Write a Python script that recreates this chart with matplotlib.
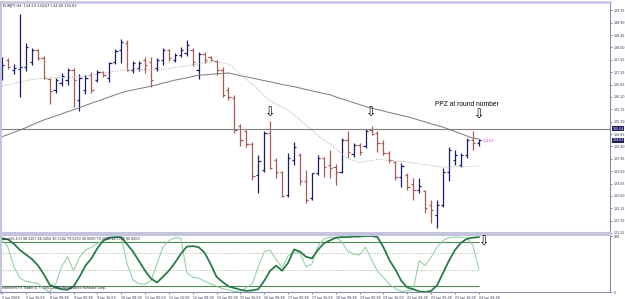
import matplotlib
matplotlib.use("Agg")
import matplotlib.pyplot as plt
import numpy as np

# EURJPY H4, 5 Jun 2009 00:00 .. 24 Jun 2009 08:00 (81 bars)
opens = [137.10, 137.54, 137.18, 137.20, 137.28, 137.47, 137.90, 137.61, 136.85, 136.45,
         136.70, 136.81, 137.18, 136.08, 136.45, 137.00, 136.81, 137.10, 136.88, 137.47,
         137.90, 138.16, 137.18, 137.25, 137.54, 137.47, 137.25, 137.54, 137.90, 137.54,
         137.72, 137.79, 137.90, 137.18, 137.76, 137.65, 137.50, 137.18, 136.45, 136.16,
         135.14, 134.96, 134.48, 133.36, 133.54, 134.88, 133.90, 133.47, 132.63, 133.90,
         134.08, 133.14, 132.52, 133.43, 133.98, 133.72, 133.65, 133.47, 134.63, 134.12,
         134.45, 134.41, 135.00, 134.88, 134.52, 134.16, 133.83, 133.28, 133.36, 133.03,
         132.81, 132.78, 132.27, 131.90, 132.27, 133.47, 133.90, 133.72, 134.08, 134.63,
         134.53]
highs = [137.65, 137.61, 137.39, 139.21, 138.16, 137.97, 137.94, 137.68, 136.88, 136.88,
         137.07, 137.25, 137.25, 137.03, 137.00, 137.10, 137.18, 137.14, 137.47, 137.94,
         138.30, 138.27, 137.50, 137.50, 137.65, 137.65, 137.61, 137.97, 137.94, 137.79,
         138.01, 138.27, 137.97, 137.83, 137.83, 137.68, 137.54, 137.28, 136.56, 136.27,
         135.21, 135.00, 134.56, 134.08, 134.96, 135.32, 133.98, 133.50, 134.16, 134.56,
         134.16, 133.54, 133.43, 134.08, 134.01, 134.27, 133.76, 134.70, 134.96, 134.52,
         134.52, 135.03, 135.14, 134.96, 134.63, 134.23, 133.87, 133.79, 133.43, 133.25,
         133.25, 132.81, 132.45, 132.45, 133.61, 134.37, 134.27, 134.16, 134.70, 134.96,
         134.67]
lows = [136.81, 137.21, 137.03, 136.19, 137.14, 137.36, 137.54, 136.85, 135.94, 136.34,
        136.59, 136.63, 135.83, 135.68, 136.30, 136.34, 136.74, 136.92, 136.74, 137.39,
        137.43, 137.14, 137.07, 137.14, 137.07, 136.56, 137.14, 137.36, 137.50, 137.47,
        137.65, 137.68, 137.32, 136.85, 137.43, 137.50, 137.00, 136.19, 136.09, 134.88,
        134.41, 134.37, 133.18, 132.70, 133.47, 133.57, 133.25, 132.56, 132.56, 133.72,
        132.99, 132.34, 132.45, 133.36, 133.28, 133.25, 132.99, 133.43, 133.99, 134.01,
        134.08, 134.34, 134.81, 134.19, 134.08, 133.79, 133.18, 132.92, 132.81, 132.45,
        132.70, 131.98, 131.61, 131.43, 132.19, 133.14, 133.72, 133.65, 133.98, 134.27,
        134.40]
closes = [137.36, 137.29, 137.25, 137.30, 138.01, 137.90, 137.61, 136.88, 136.41, 136.81,
          136.96, 137.18, 136.81, 136.88, 136.88, 136.45, 137.10, 137.00, 137.43, 137.87,
          138.19, 137.18, 137.43, 137.43, 137.36, 136.81, 137.54, 137.90, 137.61, 137.72,
          137.90, 138.08, 137.47, 137.76, 137.54, 137.54, 137.18, 136.27, 136.19, 135.00,
          134.63, 134.48, 133.32, 133.87, 134.88, 133.61, 133.47, 132.59, 133.98, 134.37,
          133.14, 132.45, 133.43, 133.98, 133.65, 133.61, 133.47, 134.63, 134.19, 134.45,
          134.19, 134.96, 134.85, 134.52, 134.16, 133.90, 133.28, 133.68, 132.92, 132.81,
          132.96, 132.16, 132.09, 132.27, 133.47, 134.27, 134.08, 134.08, 134.63, 134.52,
          134.63]

# moving averages
ma_slow = [134.75, 134.83, 134.91, 134.99, 135.08, 135.18, 135.27, 135.36, 135.43, 135.51,
           135.58, 135.66, 135.73, 135.81, 135.89, 135.97, 136.04, 136.12, 136.20, 136.27,
           136.35, 136.41, 136.45, 136.50, 136.54, 136.59, 136.64, 136.70, 136.75, 136.81,
           136.85, 136.89, 136.94, 136.99, 137.00, 137.02, 137.04, 137.05, 137.07, 137.02,
           136.97, 136.93, 136.88, 136.84, 136.79, 136.75, 136.70, 136.65, 136.61, 136.57,
           136.52, 136.47, 136.42, 136.37, 136.32, 136.28, 136.20, 136.13, 136.06, 135.99,
           135.92, 135.85, 135.79, 135.74, 135.69, 135.63, 135.58, 135.53, 135.48, 135.42,
           135.35, 135.29, 135.22, 135.16, 135.10, 135.02, 134.94, 134.86, 134.78, 134.70,
           134.67]
ma_fast = [136.60, 136.64, 136.69, 136.74, 136.78, 136.83, 136.86, 136.88, 136.89, 136.90,
           136.90, 136.91, 136.92, 136.92, 136.96, 136.99, 137.03, 137.06, 137.10, 137.13,
           137.16, 137.19, 137.21, 137.20, 137.19, 137.18, 137.17, 137.20, 137.23, 137.27,
           137.30, 137.33, 137.37, 137.40, 137.44, 137.47, 137.47, 137.44, 137.39, 137.23,
           137.03, 136.84, 136.66, 136.45, 136.25, 136.05, 135.94, 135.83, 135.72, 135.55,
           135.36, 135.17, 134.99, 134.82, 134.64, 134.50, 134.32, 134.12, 133.95, 133.88,
           133.82, 133.85, 133.88, 133.93, 133.91, 133.89, 133.87, 133.85, 133.83, 133.80,
           133.77, 133.73, 133.70, 133.67, 133.65, 133.65, 133.66, 133.66, 133.67, 133.68,
           133.68]

# stochastic
stoch_main = [95, 94, 86, 75, 67, 59, 48, 32, 13, 8,
              5, 4, 10, 27, 47, 60, 78, 92, 97, 98,
              98, 85, 72, 55, 38, 24, 17, 27, 38, 52,
              68, 81, 82, 80, 70, 50, 27, 18, 10, 7,
              4, 2, 3, 5, 20, 38, 47, 38, 52, 76,
              72, 63, 60, 75, 87, 92, 97, 98, 98, 99,
              99, 100, 100, 98, 80, 57, 40, 20, 8, 5,
              1, 0, 2, 12, 34, 56, 75, 88, 95, 97,
              98]
stoch_signal = [94, 80, 45, 25, 19, 17, 15, 6, 0, 14,
                45, 63, 38, 62, 75, 80, 87, 91, 95, 97,
                98, 50, 21, 15, 14, 20, 50, 80, 92, 97,
                96, 35, 26, 25, 19, 15, 10, 6, 4, 1,
                0, 8, 15, 45, 72, 75, 58, 43, 65, 70,
                70, 45, 50, 82, 95, 98, 97, 90, 73, 68,
                66, 80, 58, 37, 26, 14, 6, 1, 2, 4,
                56, 47, 62, 80, 92, 97, 98, 98, 96, 84,
                40]
stoch_levels_solid = [90, 10]
stoch_levels_dot = [70, 40]

price_ticks = [131.25, 131.70, 132.15, 132.60, 133.05, 133.50, 133.95, 134.40, 134.85,
               135.30, 135.75, 136.20, 136.65, 137.10, 137.55, 138.00, 138.45, 138.90, 139.35]
date_labels = ["5 Jun 2009", "5 Jun 16:00", "8 Jun 08:00", "9 Jun 00:00", "9 Jun 16:00",
               "10 Jun 08:00", "11 Jun 00:00", "11 Jun 16:00", "12 Jun 08:00", "15 Jun 00:00",
               "15 Jun 16:00", "16 Jun 08:00", "17 Jun 00:00", "17 Jun 16:00", "18 Jun 08:00",
               "19 Jun 00:00", "19 Jun 16:00", "22 Jun 08:00", "23 Jun 00:00", "23 Jun 16:00",
               "24 Jun 08:00"]
hline_price = 135.04
last_price = 134.63

NAVY = "#1c1c6e"
RED = "#a85a54"
FRAME = "#c4c4de"
AXC = "#8c8cae"

W, H = 625, 299
fig = plt.figure(figsize=(W / 100, H / 100), dpi=100)
ax = fig.add_axes([0, (H - 233) / H, 610 / W, (233 - 2) / H])
ax2 = fig.add_axes([0, (H - 292) / H, 610 / W, (292 - 235) / H])

x = np.arange(len(closes))
o = np.array(opens)
c = np.array(closes)
colors = np.where(c >= o, NAVY, RED)

# OHLC bars
ax.vlines(x, lows, highs, colors=colors, lw=0.9)
ax.hlines(o, x - 0.38, x, colors=colors, lw=0.9)
ax.hlines(c, x, x + 0.38, colors=colors, lw=0.9)

ax.plot(x, ma_slow, color="#7a7a7a", lw=0.7)
ax.plot(x, ma_fast, color="#a8a8a8", lw=0.7, ls=(0, (1, 1.5)))
ax.axhline(hline_price, color="#808080", lw=0.8)

xl = (-2 / 5.96, 608 / 5.96)
ax.set_xlim(*xl)
ax.set_ylim(131.25, 139.65)
ax.set_xticks([])
ax.yaxis.tick_right()
ax.set_yticks(price_ticks)
ax.set_yticklabels(["%.2f" % p for p in price_ticks])
ax.tick_params(axis="y", labelsize=2.3, length=1.5, width=0.4, pad=1.2,
               colors="#303050")

ax.spines["left"].set_color(FRAME)
ax.spines["left"].set_linewidth(2.2)
ax.spines["top"].set_color(FRAME)
ax.spines["top"].set_linewidth(1.8)
ax.spines["bottom"].set_color(FRAME)
ax.spines["bottom"].set_linewidth(1.5)
ax.spines["right"].set_color(AXC)
ax.spines["right"].set_linewidth(0.8)

ytr = ax.get_yaxis_transform()
for p in [hline_price, last_price]:
    ax.text(1.004, p, "%.2f" % p, transform=ytr, fontsize=2.3, color="white",
            va="center", ha="left",
            bbox=dict(boxstyle="square,pad=0.15", fc="#202060", ec="none"))
ax.text(x[-1] + 0.6, last_price - 0.02, "%.2f" % last_price, fontsize=2.3,
        color="#e040e0", va="center", ha="left")

ax.text(0.005, 0.993, "EURJPY,H4  134.53 134.67 134.40 134.63", transform=ax.transAxes,
        fontsize=2.5, color="#202040", va="top", ha="left")

ax.text(78, 135.94, "PPZ at round number", fontsize=4.8, family="Liberation Sans",
        ha="center", va="center")
for xi, yi in [(45, 135.61), (62, 135.61), (80, 135.54)]:
    ax.text(xi, yi, "\u21e9", fontsize=9, family="DejaVu Sans", ha="center", va="center")

# stochastic window
ax2.hlines(stoch_levels_solid, xl[0], x[-1], colors="#4c8a50", lw=0.8)
ax2.hlines(stoch_levels_dot, xl[0], x[-1], colors="#b0b0b0", lw=0.7, linestyles=(0, (1, 1.5)))
ax2.plot(x, stoch_signal, color="#8ccc9c", lw=0.7)
ax2.plot(x, stoch_main, color="#2a7a48", lw=1.3)
ax2.text(80.9, 89, "\u21e9", fontsize=9, family="DejaVu Sans", ha="center", va="center")

ax2.set_xlim(*xl)
ax2.set_ylim(0, 101.8)
ax2.yaxis.tick_right()
ax2.set_yticks([0, 100])
ax2.set_yticklabels(["0", "100"])
ax2.set_xticks(x[::4])
ax2.set_xticklabels(date_labels)
ax2.tick_params(axis="both", labelsize=2.3, length=1.5, width=0.4, pad=1.2,
                colors="#303050")
for lab in ax2.get_xticklabels():
    lab.set_ha("left")

ax2.spines["left"].set_color(FRAME)
ax2.spines["left"].set_linewidth(2.2)
ax2.spines["top"].set_color(FRAME)
ax2.spines["top"].set_linewidth(1.5)
ax2.spines["bottom"].set_color(AXC)
ax2.spines["bottom"].set_linewidth(0.8)
ax2.spines["right"].set_color(AXC)
ax2.spines["right"].set_linewidth(0.8)

ax2.text(0.004, 0.96, "Stoch(5,3,3) 98.3157 46.3456 90.2342 79.5250 40.0000 79.3099 12.0000 90.0000",
         transform=ax2.transAxes, fontsize=2.3, color="#202040", va="top", ha="left")
ax2.text(0.004, 0.04, "Interbank FX Trader 4, \u00a9 2001-2009 MetaQuotes Software Corp.",
         transform=ax2.transAxes, fontsize=2.3, color="#202040", va="bottom", ha="left")

fig.savefig("out.png", dpi=100)
